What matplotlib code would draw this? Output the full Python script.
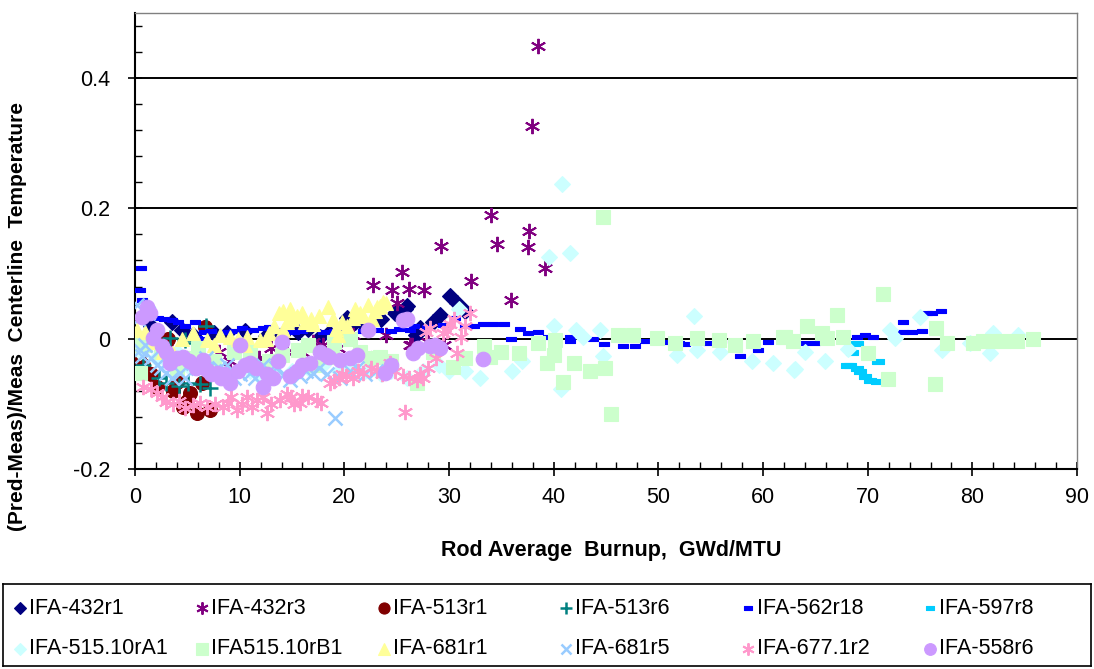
"""
Relative error of predicted fuel centerline temperature versus rod average
burnup for the IFA test rods.
"""
import matplotlib
matplotlib.use("Agg")
import matplotlib.pyplot as plt

plt.rcParams["font.family"] = ["Liberation Sans", "DejaVu Sans"]

# --- data (burnup GWd/MTU, relative error) ---
IFA_432R1_X = [4.5, 7.5, 15.6, 17.7, 20.3, 25.8, 27.2, 26.8, 30.1, 31.5, 29.1, 22.0, 12.5,
               1.5, 3.5, 5.5, 8.8, 10.5, 14.0, 16.5, 18.5, 19.5, 21.0, 23.5, 24.8, 26.0,
               28.5, 30.8]
IFA_432R1_Y = [0.014, 0.009, 0.011, 0.003, 0.032, 0.046, 0.017, 0.005, 0.065, 0.042, 0.037,
               0.020, 0.004, 0.020, 0.025, 0.005, 0.008, 0.012, 0.005, 0.015, 0.008, 0.010,
               0.025, 0.030, 0.040, 0.050, 0.025, 0.055]

IFA_432R3_X = [38.5, 37.9, 37.6, 37.5, 39.2, 34.0, 34.6, 35.9, 29.2, 32.1, 25.5, 22.7,
               24.6, 26.2, 27.6, 25.0, 9.1, 19.4, 14.5, 5.5, 11.8, 17.0, 26.3, 3.0,
               2.5, 6.0, 8.0, 10.5, 13.0, 16.0, 18.0, 20.8, 22.0, 24.0, 26.5, 28.0, 29.5]
IFA_432R3_Y = [0.449, 0.326, 0.165, 0.140, 0.109, 0.190, 0.145, 0.060, 0.143, 0.088, 0.103,
               0.083, 0.074, 0.077, 0.074, 0.055, -0.035, -0.014, -0.020, -0.025, -0.030,
               -0.005, -0.010, -0.015, -0.005, -0.030, -0.020, -0.010, -0.015, -0.020,
               -0.010, 0.005, -0.025, 0.005, -0.010, -0.005, -0.010]

IFA_513R1_X = [6.7, 3.2, 0.8, 4.0, 5.3, 5.9, 7.2, 4.6, 2.1, 6.4, 3.6, 5.0, 0.4, 1.5]
IFA_513R1_Y = [0.018, 0.000, -0.040, -0.066, -0.083, -0.114, -0.109, -0.105, -0.074, -0.068,
               -0.080, -0.095, -0.030, -0.055]

IFA_513R6_X = [6.8, 3.3, 4.8, 3.0, 5.1, 6.2, 0.8, 7.2, 4.2, 5.7, 2.3]
IFA_513R6_Y = [0.019, 0.001, -0.002, -0.068, -0.068, -0.070, -0.040, -0.075, -0.072, -0.006,
               -0.060]

IFA_562R18_X = [0.6, 0.5, 0.7, 2.2, 3.5, 4.1, 5.7, 5.9, 6.2, 10.2, 11.3, 12.2, 13.7, 23.2,
                26.3, 26.7, 29.4, 30.6, 31.5, 33.2, 35.3, 35.9, 38.5, 41.6, 41.6, 43.8,
                46.6, 47.8, 48.7, 54.7, 59.5, 57.8, 64.0, 65.0, 69.0, 69.7, 73.4, 73.4,
                74.2, 75.2, 76.1, 77.0, 75.7, 50.5, 52.5, 56.0, 1.0, 1.5, 2.8, 4.8, 6.6,
                7.3, 8.5, 9.5, 12.8, 14.5, 15.2, 16.0, 18.0, 19.0, 20.2, 21.8, 24.5, 25.2,
                27.9, 32.4, 34.2, 36.8, 37.5, 39.5, 44.8, 50.0, 52.0, 60.5, 62.5, 66.0,
                67.5, 70.5]
IFA_562R18_Y = [0.109, 0.074, 0.060, 0.032, 0.028, 0.026, 0.025, 0.001, 0.000, 0.017, 0.014,
                0.016, 0.014, 0.014, 0.014, 0.019, 0.021, 0.032, 0.019, 0.022, 0.022, -0.001,
                0.011, 0.003, -0.004, -0.001, -0.012, -0.011, -0.004, -0.006, -0.018, -0.026,
                -0.006, -0.006, 0.003, 0.005, 0.025, 0.011, 0.011, 0.012, 0.040, 0.042, 0.040,
                -0.005, -0.008, -0.003, 0.040, 0.035, 0.030, 0.020, 0.010, 0.012, 0.010,
                0.012, 0.018, 0.015, 0.010, 0.012, 0.010, 0.012, 0.015, 0.012, 0.012, 0.015,
                0.018, 0.020, 0.022, 0.015, 0.008, 0.002, -0.008, -0.004, -0.006, -0.005,
                -0.004, 0.000, 0.002, 0.003]

IFA_597R8_X = [69.0, 68.5, 71.0, 68.3, 69.3, 70.2, 70.9, 69.7, 69.0, 68.0]
IFA_597R8_Y = [-0.006, -0.020, -0.035, -0.041, -0.050, -0.063, -0.065, -0.058, -0.045, -0.040]

IFA_515A1_X = [40.8, 41.6, 39.6, 40.7, 53.4, 40.0, 42.1, 44.4, 37.0, 44.7, 51.8, 53.7,
               55.9, 58.9, 61.0, 63.0, 42.8, 63.1, 65.9, 64.0, 68.1, 72.1, 72.6, 75.0,
               77.1, 82.0, 81.7, 84.4, 79.8, 0.5, 2.0, 5.0, 8.0, 12.0, 15.0, 18.0, 22.0,
               26.0, 30.0, 33.0, 36.0, 31.0, 0.2, 1.2, 3.0, 4.0, 6.0, 7.0, 9.0, 10.5, 11.0,
               13.5, 16.5, 19.5, 20.5, 23.5, 24.5, 27.5, 29.0, 31.5]
IFA_515A1_Y = [0.237, 0.132, 0.125, -0.078, 0.035, 0.020, 0.014, 0.014, -0.035, -0.027,
               -0.025, -0.017, -0.021, -0.035, -0.038, -0.048, 0.003, -0.046, -0.035, -0.020,
               -0.016, 0.014, 0.001, 0.034, -0.017, 0.009, -0.022, 0.006, -0.006, -0.020,
               -0.030, -0.040, -0.050, -0.060, -0.050, -0.040, -0.050, -0.060, -0.050,
               -0.060, -0.050, 0.045, 0.005, -0.010, -0.035, -0.020, -0.030, -0.045, -0.055,
               -0.040, -0.050, -0.055, -0.045, -0.050, -0.040, -0.055, -0.050, -0.050,
               -0.040, -0.050]

IFA_515B1_X = [44.7, 71.5, 36.7, 38.5, 40.1, 40.0, 39.4, 41.9, 40.9, 43.5, 44.9, 46.1,
               47.6, 49.9, 51.6, 45.5, 53.7, 55.8, 57.3, 59.0, 61.9, 62.9, 62.1, 64.2,
               65.6, 66.1, 67.1, 67.6, 70.0, 71.9, 76.5, 77.6, 76.4, 80.1, 81.0, 81.9,
               82.9, 84.3, 85.8, 0.5, 20.5, 15.6, 18.8, 33.3, 33.9, 30.4, 23.4, 26.9,
               1.0, 5.5, 9.5, 12.8, 0.2, 0.3, 2.5, 4.0, 6.0, 7.5, 11.0, 14.0, 16.5, 17.2,
               19.0, 21.5, 22.5, 24.5, 28.5, 31.5, 35.0]
IFA_515B1_Y = [0.186, 0.068, -0.022, -0.007, -0.002, -0.025, -0.037, -0.037, -0.066, -0.050,
               -0.045, 0.006, 0.006, 0.001, -0.006, -0.115, 0.001, -0.002, -0.009, -0.003,
               0.002, -0.004, 0.003, 0.019, 0.009, 0.001, 0.037, 0.003, -0.022, -0.062,
               0.017, -0.006, -0.069, -0.006, -0.004, -0.004, -0.004, -0.004, 0.000, -0.052,
               -0.001, -0.017, -0.028, -0.012, -0.028, -0.043, -0.028, -0.068, -0.010,
               -0.030, -0.020, -0.035, -0.010, 0.000, -0.020, -0.045, -0.015, -0.035,
               -0.020, -0.025, -0.010, -0.040, -0.005, -0.020, -0.030, -0.035, -0.020,
               -0.030, -0.020]

IFA_681R1_X = [14.1, 14.8, 16.2, 17.0, 18.4, 19.8, 20.8, 22.3, 22.9, 19.4, 11.9, 14.1,
               23.7, 23.1, 8.1, 9.1, 6.9, 10.7, 0.2, 2.7, 3.6, 15.5, 21.5, 12.8, 1.0, 1.8,
               4.5, 5.5, 7.5, 9.8, 10.5, 12.5, 13.3, 15.0, 16.0, 16.8, 17.6, 18.9, 19.2,
               20.3, 21.0, 21.8, 22.6, 23.4, 24.0, 13.8, 14.5]
IFA_681R1_Y = [0.042, 0.045, 0.026, 0.022, 0.048, 0.026, 0.032, 0.052, 0.042, 0.006, -0.002,
               0.014, 0.057, 0.049, 0.006, 0.003, -0.002, 0.002, 0.014, -0.020, -0.022, 0.035,
               0.040, 0.008, 0.010, -0.005, 0.000, 0.008, -0.010, 0.000, -0.010, 0.000,
               0.020, 0.030, 0.040, 0.030, 0.035, 0.030, 0.015, 0.020, 0.045, 0.035, 0.030,
               0.050, 0.055, 0.040, 0.025]

IFA_681R5_X = [0.2, 0.5, 0.7, 2.1, 3.0, 4.3, 5.5, 10.0, 11.0, 12.2, 17.0, 14.8, 15.8,
               19.1, 8.0, 20.5, 22.0, 1.2, 0.3, 1.0, 1.5, 2.5, 3.5, 4.8, 6.0, 6.8, 7.5,
               8.8, 9.5, 10.5, 11.5, 12.8, 13.5, 14.2, 16.3, 17.6, 18.3, 19.6, 21.2, 23.0]
IFA_681R5_Y = [0.052, -0.017, -0.027, -0.040, -0.052, -0.052, -0.037, -0.055, -0.052, -0.040,
               -0.052, -0.063, -0.058, -0.122, -0.045, -0.050, -0.055, 0.040, 0.030, -0.010,
               -0.030, -0.045, -0.060, -0.060, -0.045, -0.030, -0.050, -0.040, -0.060,
               -0.045, -0.060, -0.050, -0.045, -0.055, -0.050, -0.045, -0.055, -0.060,
               -0.045, -0.050]

IFA_677R2_X = [0.8, 2.1, 3.0, 4.8, 6.9, 8.4, 9.7, 10.7, 11.7, 13.9, 15.8, 17.4, 12.6,
               18.6, 20.2, 21.8, 23.1, 24.4, 25.6, 26.9, 25.8, 28.2, 29.4, 30.1, 31.1,
               32.0, 30.8, 28.0, 16.5, 14.5, 19.5, 27.5, 1.5, 2.6, 3.6, 4.2, 5.5, 6.2,
               7.6, 8.9, 9.2, 10.2, 11.2, 12.2, 13.0, 14.9, 15.2, 16.0, 17.8, 19.0, 19.8,
               20.8, 21.3, 22.5, 23.6, 24.8, 26.2, 27.2, 28.8, 29.8, 30.5, 31.5, 27.8]
IFA_677R2_Y = [-0.074, -0.083, -0.097, -0.106, -0.105, -0.105, -0.109, -0.089, -0.094, -0.094,
               -0.098, -0.094, -0.114, -0.068, -0.058, -0.052, -0.048, -0.037, -0.058, -0.063,
               -0.112, 0.017, 0.009, 0.022, 0.003, 0.040, -0.022, -0.045, -0.090, -0.085,
               -0.060, -0.060, -0.078, -0.090, -0.100, -0.095, -0.102, -0.098, -0.100,
               -0.098, -0.090, -0.100, -0.105, -0.090, -0.100, -0.090, -0.100, -0.088,
               -0.098, -0.065, -0.055, -0.060, -0.050, -0.045, -0.055, -0.050, -0.060,
               -0.055, -0.030, 0.012, 0.030, 0.020, 0.010]

IFA_558R6_X = [1.1, 0.7, 2.1, 1.7, 2.6, 3.3, 4.6, 6.5, 6.9, 7.8, 9.1, 10.0, 11.0, 14.0,
               13.7, 12.6, 12.2, 14.8, 16.7, 17.7, 19.6, 21.2, 22.3, 25.6, 23.9, 26.6,
               28.2, 29.1, 33.2, 8.5, 18.5, 1.4, 3.0, 4.0, 5.2, 5.8, 7.3, 8.2, 9.8, 10.5,
               11.6, 13.2, 15.5, 16.0, 18.2, 20.5, 24.5, 27.0, 28.7, 26.0]
IFA_558R6_Y = [0.049, 0.034, 0.014, 0.001, -0.012, -0.037, -0.028, -0.032, -0.048, -0.052,
               -0.068, -0.009, -0.037, -0.005, -0.035, -0.055, -0.074, -0.058, -0.037, -0.020,
               -0.032, -0.025, 0.014, 0.029, -0.052, -0.022, -0.012, -0.014, -0.031, -0.055,
               -0.028, 0.040, -0.020, -0.030, -0.035, -0.045, -0.055, -0.060, -0.050,
               -0.040, -0.045, -0.060, -0.050, -0.040, -0.025, -0.030, -0.040, -0.015,
               -0.010, 0.030]

LABELS = ["IFA-432r1", "IFA-432r3", "IFA-513r1", "IFA-513r6", "IFA-562r18", "IFA-597r8",
          "IFA-515.10rA1", "IFA515.10rB1", "IFA-681r1", "IFA-681r5", "IFA-677.1r2", "IFA-558r6"]
COLORS = ["#000080", "#800080", "#800000", "#008080", "#0000FF", "#00CCFF",
          "#CCFFFF", "#CCFFCC", "#FFFF99", "#99CCFF", "#FF99CC", "#CC99FF"]

# Excel style dash marker: a flat rectangle
DASH = [(-1, -0.45), (1, -0.45), (1, 0.45), (-1, 0.45), (-1, -0.45)]
STAR = (6, 2, 0)
MARKERS = ["D", STAR, "o", "+", DASH, DASH, "D", "s", "^", "x", STAR, "o"]
SIZES = [8, 11, 10, 11, 7, 8, 8, 10, 10, 9.5, 11, 10.5]

SERIES = [(IFA_432R1_X, IFA_432R1_Y), (IFA_432R3_X, IFA_432R3_Y), (IFA_513R1_X, IFA_513R1_Y),
          (IFA_513R6_X, IFA_513R6_Y), (IFA_562R18_X, IFA_562R18_Y), (IFA_597R8_X, IFA_597R8_Y),
          (IFA_515A1_X, IFA_515A1_Y), (IFA_515B1_X, IFA_515B1_Y), (IFA_681R1_X, IFA_681R1_Y),
          (IFA_681R5_X, IFA_681R5_Y), (IFA_677R2_X, IFA_677R2_Y), (IFA_558R6_X, IFA_558R6_Y)]


def edge_width(marker):
    """ Line markers need a heavier stroke than the filled ones. """
    if marker == STAR:
        return 1.4
    if marker in ("+", "x"):
        return 1.8
    return 0.8


def draw_legend(fig):
    """ Excel like legend: a boxed 6 x 2 grid of equal width cells. """
    lax = fig.add_axes([3 / 1094, 3 / 669, 1088 / 1094, 82 / 669])
    lax.set_xlim(0, 1088)
    lax.set_ylim(82, 0)
    lax.set_xticks([])
    lax.set_yticks([])
    for side in lax.spines.values():
        side.set_linewidth(1.2)
    for i, (label, color, marker, size) in enumerate(zip(LABELS, COLORS, MARKERS, SIZES)):
        col, row = i % 6, i // 6
        x0 = 17 + 182 * col
        y0 = 24 + 41 * row
        lax.plot([x0], [y0], linestyle="none", marker=marker, markersize=size * 0.8,
                 color=color, markeredgecolor=color, markeredgewidth=edge_width(marker),
                 clip_on=False)
        lax.text(x0 + 9, y0, label, fontsize=15.5, va="center", ha="left")


def draw_chart():
    """ Draws the scatter chart with the legend box below it. """
    fig = plt.figure(figsize=(10.94, 6.69), dpi=100, facecolor="white")
    ax = fig.add_axes([0.1234, 0.299, 0.8611, 0.6817])

    for yv in [0.0, 0.2, 0.4]:
        ax.axhline(yv, color="black", lw=1.4, zorder=1)

    for (xs, ys), color, marker, size in zip(SERIES, COLORS, MARKERS, SIZES):
        ax.plot(xs, ys, linestyle="none", marker=marker, markersize=size,
                color=color, markeredgecolor=color,
                markeredgewidth=edge_width(marker), zorder=3)

    ax.set_xlim(0, 90)
    ax.set_ylim(-0.2, 0.5)
    ax.set_xticks(range(0, 91, 10))
    ax.set_xticks(range(0, 91, 2), minor=True)
    ax.set_yticks([-0.2, 0, 0.2, 0.4])
    ax.set_yticks([v / 100 for v in range(-20, 51, 4)], minor=True)
    ax.set_yticklabels(["-0.2", "0", "0.2", "0.4"])
    ax.tick_params(axis="both", which="major", direction="inout", length=10, width=1.2,
                   labelsize=15.5)
    ax.tick_params(axis="both", which="minor", direction="in", length=5, width=1.0)
    ax.tick_params(axis="x", pad=8)
    ax.tick_params(axis="y", pad=13)
    for side in ["left", "bottom"]:
        ax.spines[side].set_linewidth(1.5)
    for side in ["right", "top"]:
        ax.spines[side].set_color("#808080")
        ax.spines[side].set_linewidth(1.0)

    ax.set_xlabel("Rod Average  Burnup,  GWd/MTU", fontsize=15.5, fontweight="bold")
    ax.xaxis.set_label_coords(0.506, -0.155)
    ax.set_ylabel("(Pred-Meas)/Meas  Centerline  Temperature", fontsize=15,
                  fontweight="bold")
    ax.yaxis.set_label_coords(-0.1146, 0.335)

    draw_legend(fig)

    fig.savefig("out.png", dpi=100, facecolor="white")
    plt.close(fig)


if __name__ == "__main__":
    draw_chart()
